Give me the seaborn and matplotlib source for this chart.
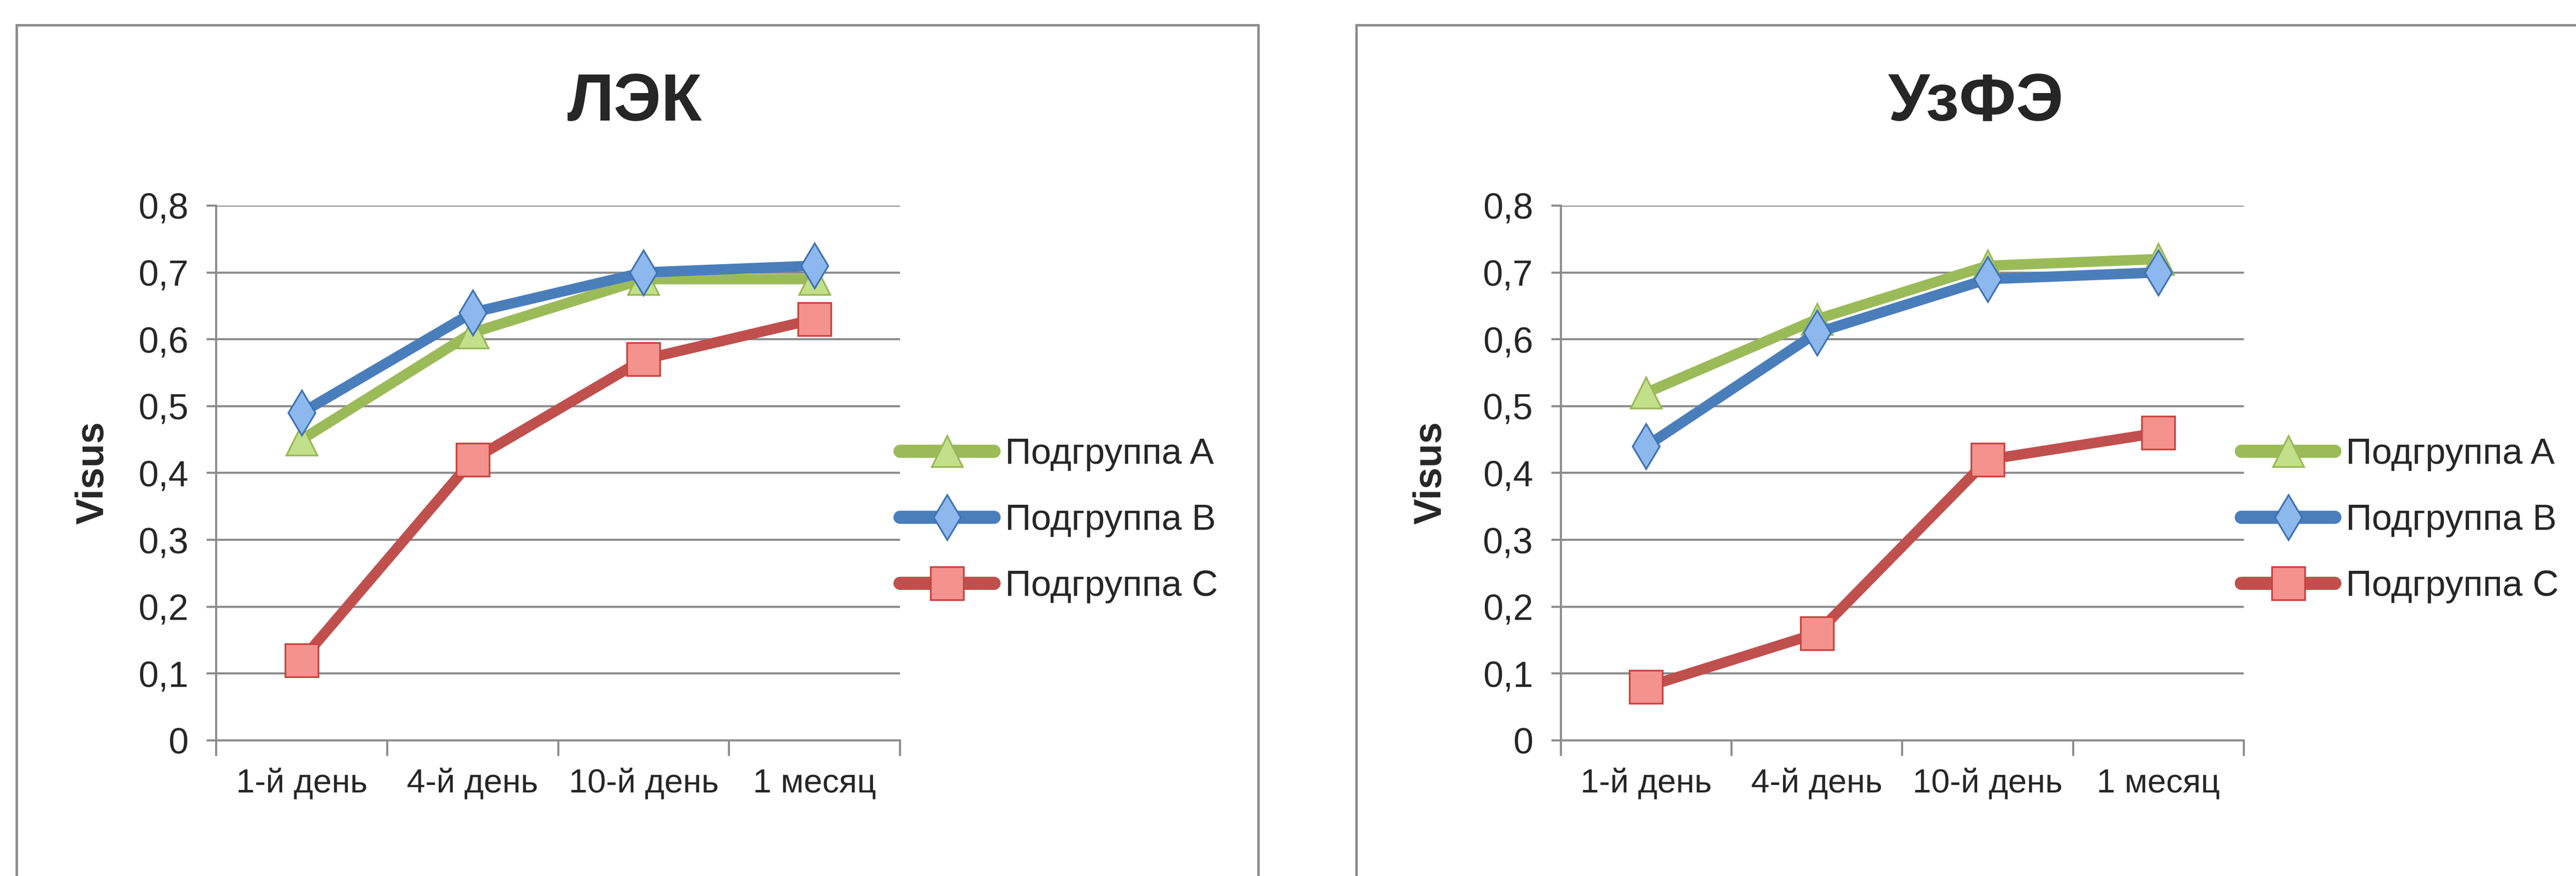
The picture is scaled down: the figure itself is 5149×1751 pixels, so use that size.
import pandas as pd
import seaborn as sns
import matplotlib.pyplot as plt
from matplotlib.patches import Rectangle

# ---- data ----
days = ["1-й день", "4-й день", "10-й день", "1 месяц"]
groups = ["Подгруппа A", "Подгруппа B", "Подгруппа C"]

lek_a = [0.45, 0.61, 0.69, 0.69]
lek_b = [0.49, 0.64, 0.70, 0.71]
lek_c = [0.12, 0.42, 0.57, 0.63]

uzfe_a = [0.52, 0.63, 0.71, 0.72]
uzfe_b = [0.44, 0.61, 0.69, 0.70]
uzfe_c = [0.08, 0.16, 0.42, 0.46]

yticks = [0, 0.1, 0.2, 0.3, 0.4, 0.5, 0.6, 0.7, 0.8]
ytick_labels = ["0", "0,1", "0,2", "0,3", "0,4", "0,5", "0,6", "0,7", "0,8"]

# ---- style ----
sns.set_style("white")
plt.rcParams['font.family'] = ['Liberation Sans', 'DejaVu Sans']

grid_col = '#8c8c8c'
styles = [
    dict(color='#9BBB59', marker='^', ms=44, mfc='#C2DF8A', mec='#98B954'),
    dict(color='#4A7EBB', marker='d', ms=46, mfc='#8DB8EE', mec='#3F74B4'),
    dict(color='#C0504D', marker='s', ms=48, mfc='#F4928E', mec='#C9433F'),
]

fig = plt.figure(figsize=(51.49, 17.51), dpi=100)

panels = [
    dict(title="ЛЭК", series=[lek_a, lek_b, lek_c],
         rect=[0.0839, 0.1548, 0.2655, 0.6105], title_x=0.2463, label_x=0.0361,
         leg_x=0.3494, frame=(0.0064, 0.4820)),
    dict(title="УзФЭ", series=[uzfe_a, uzfe_b, uzfe_c],
         rect=[0.6059, 0.1548, 0.2651, 0.6105], title_x=0.7671, label_x=0.5554,
         leg_x=0.8700, frame=(0.5265, 0.5)),
]

for p in panels:
    # chart frame
    fx, fw = p['frame']
    fig.patches.append(Rectangle((fx, -0.1), fw, 1.1 - 50 / 1751, transform=fig.transFigure,
                                 fill=False, edgecolor=grid_col, lw=3.5))

    ax = fig.add_axes(p['rect'])
    for vals, name, st in zip(p['series'], groups, styles):
        sns.lineplot(x=days, y=vals, ax=ax, sort=False, label=name,
                     color=st['color'], marker=st['marker'], markersize=st['ms'],
                     markerfacecolor=st['mfc'], markeredgecolor=st['mec'],
                     markeredgewidth=2.5)
    # thick Excel-style lines
    for line in ax.lines:
        line.set_linewidth(15)
        line.set_solid_capstyle('round')
        line.set_solid_joinstyle('round')

    ax.set_xlim(-0.5, 3.5)
    ax.set_ylim(0, 0.8)
    ax.set_xlabel('')
    ax.set_ylabel('')

    ax.set_xticks(range(len(days)))
    ax.set_xticklabels(days)
    ax.set_xticks([-0.5, 0.5, 1.5, 2.5, 3.5], minor=True)
    ax.tick_params(axis='x', which='major', bottom=True, length=0, pad=40, labelsize=48)
    ax.tick_params(axis='x', which='minor', bottom=True, length=22, width=3, color=grid_col)

    ax.set_yticks(yticks)
    ax.set_yticklabels(ytick_labels)
    ax.tick_params(axis='y', left=True, length=14, width=3, color=grid_col, pad=26, labelsize=52)

    ax.yaxis.grid(True, color=grid_col, lw=3)
    ax.xaxis.grid(False)
    ax.set_axisbelow(True)
    for s in ['top', 'right']:
        ax.spines[s].set_visible(False)
    for s in ['left', 'bottom']:
        ax.spines[s].set_color(grid_col)
        ax.spines[s].set_linewidth(3)

    leg = ax.legend(loc='center left', bbox_to_anchor=(p['leg_x'], 0.4055),
                    bbox_transform=fig.transFigure, frameon=False, fontsize=52,
                    handlelength=2.6, handletextpad=0.3, labelspacing=0.9,
                    borderpad=0, borderaxespad=0, numpoints=1)
    for h in leg.legend_handles:
        h.set_linewidth(19)
        h.set_solid_capstyle('round')

    fig.text(p['title_x'], 0.8818, p['title'], ha='center', va='center',
             fontsize=96, fontweight='bold')
    fig.text(p['label_x'], 0.4603, "Visus", ha='center', va='center',
             rotation=90, fontsize=56, fontweight='bold')

fig.savefig("out.png", dpi=100)
